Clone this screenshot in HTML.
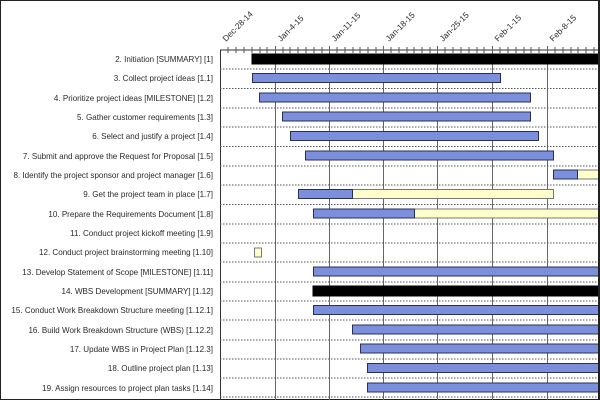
<!DOCTYPE html>
<html><head><meta charset="utf-8"><style>
html,body{margin:0;padding:0;background:#fff}
svg{display:block}
text{font-family:"Liberation Sans",Arial,sans-serif;fill:#2a2a2a}
</style></head><body>
<svg width="600" height="400" xmlns="http://www.w3.org/2000/svg">
<rect x="0.5" y="0.5" width="599" height="399" fill="#fff" stroke="#222" stroke-width="1"/>
<g font-size="8.05" text-anchor="end">
<text x="213" y="62">2. Initiation [SUMMARY] [1]</text>
<text x="213" y="81">3. Collect project ideas [1.1]</text>
<text x="213" y="101">4. Prioritize project ideas [MILESTONE] [1.2]</text>
<text x="213" y="120">5. Gather customer requirements [1.3]</text>
<text x="213" y="139">6. Select and justify a project [1.4]</text>
<text x="213" y="159">7. Submit and approve the Request for Proposal [1.5]</text>
<text x="213" y="178">8. Identify the project sponsor and project manager [1.6]</text>
<text x="213" y="197">9. Get the project team in place [1.7]</text>
<text x="213" y="217">10. Prepare the Requirements Document [1.8]</text>
<text x="213" y="236">11. Conduct project kickoff meeting [1.9]</text>
<text x="213" y="255">12. Conduct project brainstorming meeting [1.10]</text>
<text x="213" y="275">13. Develop Statement of Scope [MILESTONE] [1.11]</text>
<text x="213" y="294">14. WBS Development [SUMMARY] [1.12]</text>
<text x="213" y="313">15. Conduct Work Breakdown Structure meeting [1.12.1]</text>
<text x="213" y="333">16. Build Work Breakdown Structure (WBS) [1.12.2]</text>
<text x="213" y="352">17. Update WBS in Project Plan [1.12.3]</text>
<text x="213" y="371">18. Outline project plan [1.13]</text>
<text x="213" y="391">19. Assign resources to project plan tasks [1.14]</text>
</g>
<g font-size="8.3">
<text transform="translate(226,42) rotate(-45)">Dec-28-14</text>
<text transform="translate(281,42) rotate(-45)">Jan-4-15</text>
<text transform="translate(335,42) rotate(-45)">Jan-11-15</text>
<text transform="translate(389,42) rotate(-45)">Jan-18-15</text>
<text transform="translate(443,42) rotate(-45)">Jan-25-15</text>
<text transform="translate(498,42) rotate(-45)">Feb-1-15</text>
<text transform="translate(553,42) rotate(-45)">Feb-8-15</text>
</g>
<line x1="220" y1="50" x2="600" y2="50" stroke="#333"/>
<line x1="220.5" y1="50" x2="220.5" y2="400" stroke="#333"/>
<g stroke="#666" stroke-width="1">
<line x1="275.5" y1="46" x2="275.5" y2="400"/>
<line x1="329.5" y1="46" x2="329.5" y2="400"/>
<line x1="383.5" y1="46" x2="383.5" y2="400"/>
<line x1="437.5" y1="46" x2="437.5" y2="400"/>
<line x1="492.5" y1="46" x2="492.5" y2="400"/>
<line x1="547.5" y1="46" x2="547.5" y2="400"/>
</g>
<path d="M228,47v6M236,47v6M244,47v6M252,47v6M260,47v6M267,47v6M283,47v6M290,47v6M298,47v6M306,47v6M314,47v6M322,47v6M337,47v6M345,47v6M353,47v6M360,47v6M368,47v6M376,47v6M391,47v6M399,47v6M407,47v6M414,47v6M422,47v6M430,47v6M445,47v6M453,47v6M461,47v6M469,47v6M477,47v6M484,47v6M500,47v6M508,47v6M516,47v6M524,47v6M531,47v6M539,47v6M555,47v6M563,47v6M571,47v6M578,47v6M586,47v6M594,47v6" stroke="#555"/>
<g stroke="#555" stroke-dasharray="1.5,1.5">
<line x1="220" y1="69" x2="600" y2="69"/>
<line x1="220" y1="88.5" x2="600" y2="88.5"/>
<line x1="220" y1="108" x2="600" y2="108"/>
<line x1="220" y1="127" x2="600" y2="127"/>
<line x1="220" y1="146.5" x2="600" y2="146.5"/>
<line x1="220" y1="166" x2="600" y2="166"/>
<line x1="220" y1="185" x2="600" y2="185"/>
<line x1="220" y1="204.5" x2="600" y2="204.5"/>
<line x1="220" y1="224" x2="600" y2="224"/>
<line x1="220" y1="243" x2="600" y2="243"/>
<line x1="220" y1="262" x2="600" y2="262"/>
<line x1="220" y1="282" x2="600" y2="282"/>
<line x1="220" y1="301" x2="600" y2="301"/>
<line x1="220" y1="320" x2="600" y2="320"/>
<line x1="220" y1="340" x2="600" y2="340"/>
<line x1="220" y1="359" x2="600" y2="359"/>
<line x1="220" y1="378" x2="600" y2="378"/>
<line x1="220" y1="397" x2="600" y2="397"/>
</g>
<g stroke="#2a2f55" stroke-width="1">
<rect x="252" y="54" width="348" height="10" fill="#000" stroke="#000"/>
<rect x="252.5" y="73.5" width="248" height="9" fill="#7b8fdc"/>
<rect x="259.5" y="93" width="271" height="9" fill="#7b8fdc"/>
<rect x="282.5" y="112" width="248" height="9" fill="#7b8fdc"/>
<rect x="290.5" y="131.5" width="248" height="9" fill="#7b8fdc"/>
<rect x="305.5" y="151" width="248" height="9" fill="#7b8fdc"/>
<rect x="577.5" y="170" width="23" height="9" fill="#ffffcc" stroke="#777"/>
<rect x="553.5" y="170" width="24" height="9" fill="#7b8fdc"/>
<rect x="352.5" y="189.5" width="201" height="9" fill="#ffffcc" stroke="#777"/>
<rect x="298.5" y="189.5" width="54" height="9" fill="#7b8fdc"/>
<rect x="414.5" y="209" width="186" height="9" fill="#ffffcc" stroke="#777"/>
<rect x="313.5" y="209" width="101" height="9" fill="#7b8fdc"/>
<rect x="254.5" y="248" width="7" height="9" fill="#ffffcc" stroke="#777"/>
<rect x="313.5" y="267" width="287" height="9" fill="#7b8fdc"/>
<rect x="313" y="286" width="287" height="10" fill="#000" stroke="#000"/>
<rect x="313.5" y="305.5" width="287" height="9" fill="#7b8fdc"/>
<rect x="352.5" y="325" width="248" height="9" fill="#7b8fdc"/>
<rect x="360.5" y="344" width="240" height="9" fill="#7b8fdc"/>
<rect x="367.5" y="363.5" width="233" height="9" fill="#7b8fdc"/>
<rect x="367.5" y="383" width="233" height="9" fill="#7b8fdc"/>
</g>
<rect x="598" y="0" width="2" height="400" fill="#222"/>
</svg>
</body></html>
